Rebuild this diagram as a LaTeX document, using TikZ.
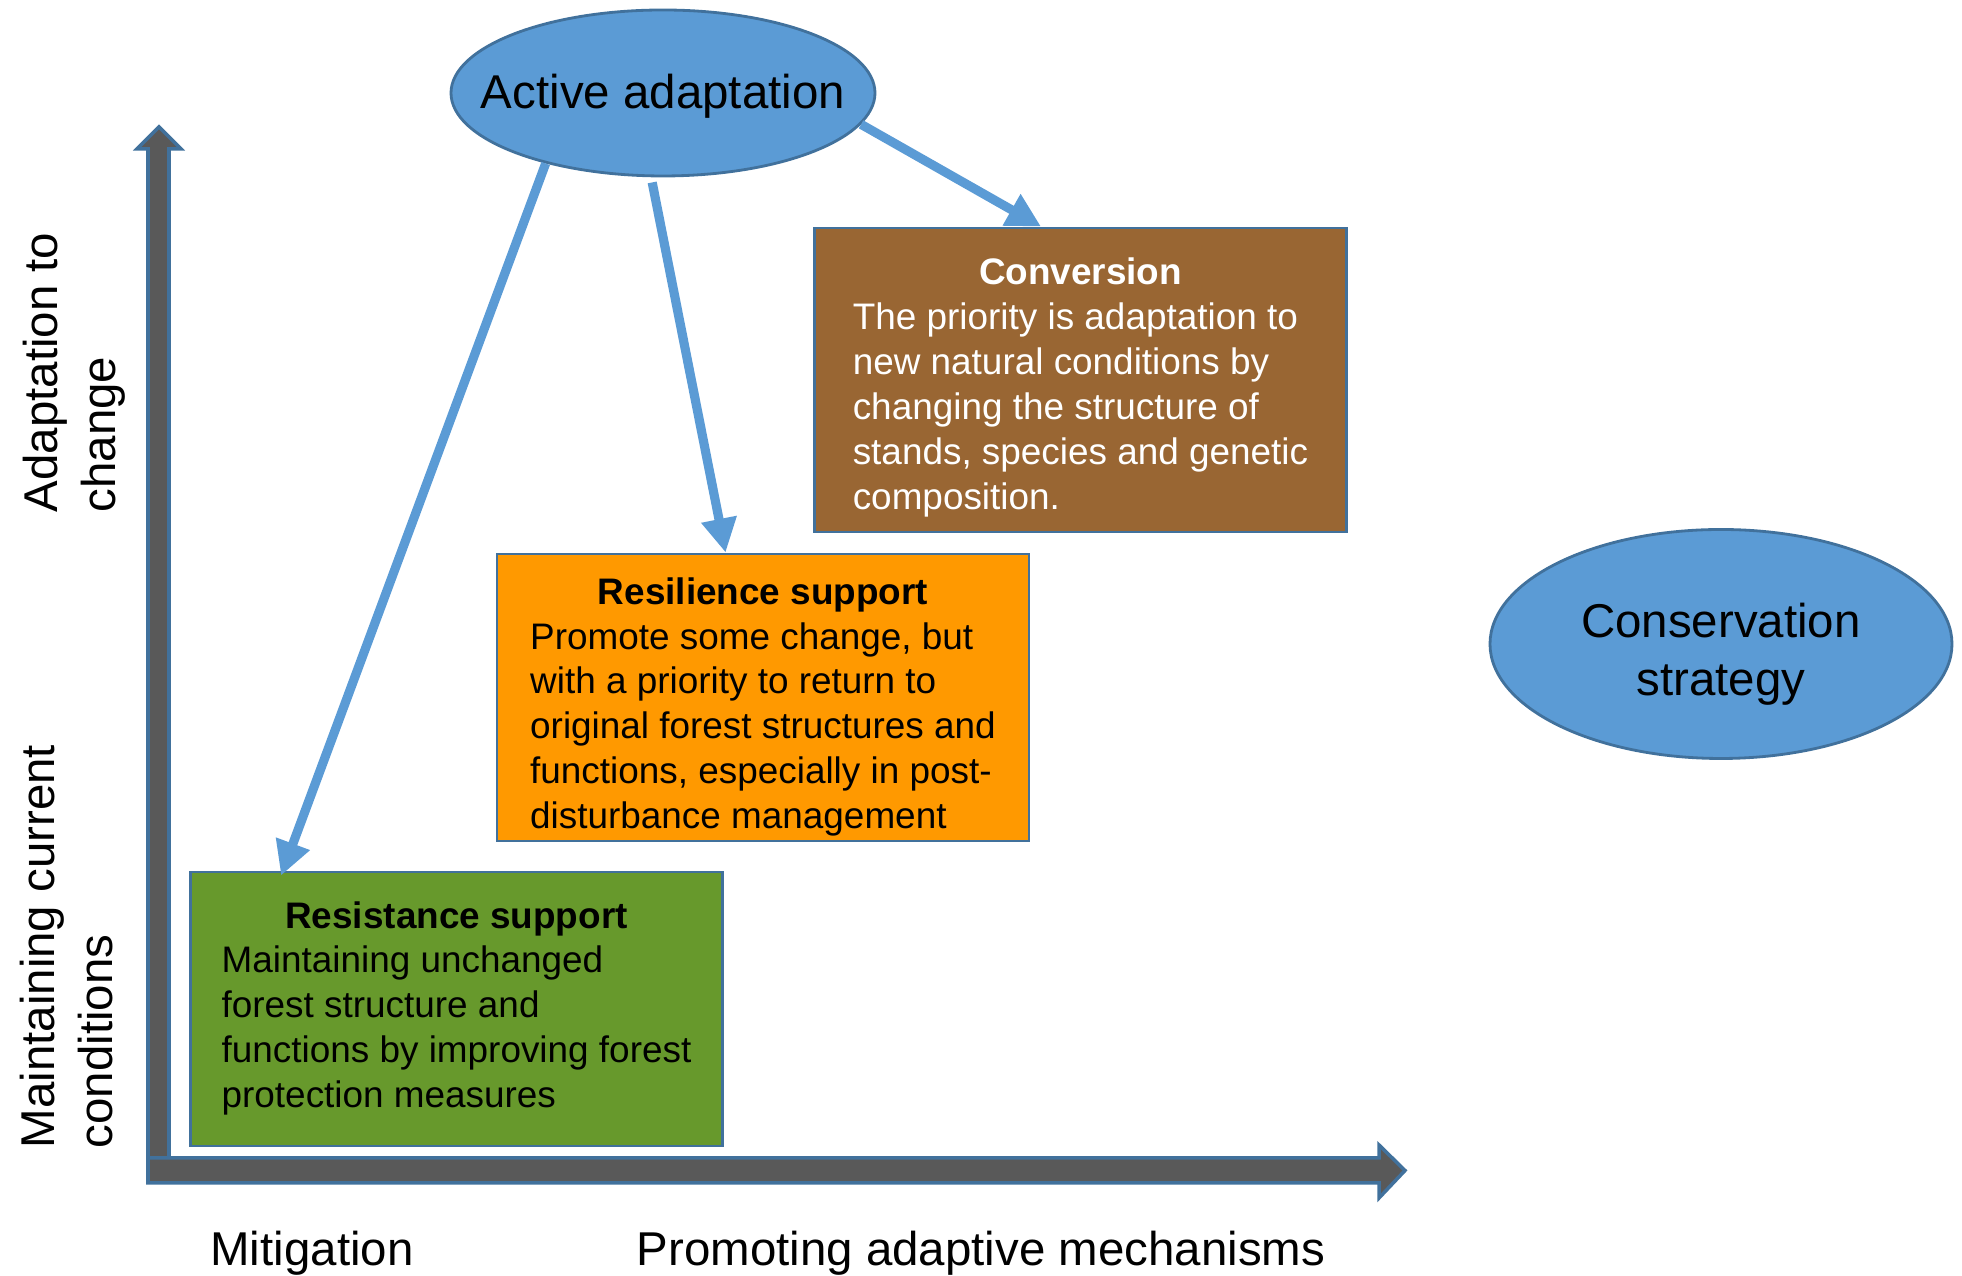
\documentclass[tikz,border=0pt]{standalone}
\usepackage{fontspec}
\setmainfont{Liberation Sans}
\usepackage{xcolor}
\usepackage{tikz}
\usetikzlibrary{calc,shapes.geometric,arrows.meta}
\definecolor{edge}{HTML}{41719C}
\definecolor{sky}{HTML}{5B9BD5}
\definecolor{axisgray}{HTML}{595959}
\definecolor{convbg}{HTML}{996633}
\definecolor{resilbg}{HTML}{FF9900}
\definecolor{resistbg}{HTML}{67992C}
\newcommand{\bigfont}{\fontsize{13.5}{16.5}\selectfont}
\newcommand{\smallfont}{\fontsize{10.5}{12.8}\selectfont}
\newcommand{\ttl}[1]{\multicolumn{1}{@{}c@{}}{\textbf{#1}}}
\newcommand{\dropby}[2]{\raisebox{-#1}[\height][\depth]{#2}}
\tikzset{
  oval/.style={ellipse, draw=edge, fill=sky, line width=0.8pt, inner sep=0pt},
  panel/.style={rectangle, draw=edge, line width=0.8pt, inner sep=0pt, minimum width=5.32cm, font=\smallfont},
  link/.style={draw=sky, line width=2.6pt, -{Triangle[width=0.34cm,length=0.34cm]}},
  axis/.style={draw=edge, fill=axisgray, line width=1pt, line join=miter},
  lab/.style={font=\bigfont, inner sep=0pt, align=center}
}

\begin{document}
\begin{tikzpicture}
  \useasboundingbox (0,0) rectangle (19.62,12.76);
  \draw[axis] (1.48,1.00) -- (1.48,11.27) -- (1.37,11.27) -- (1.59,11.49) -- (1.81,11.27) -- (1.69,11.27) -- (1.69,1.00) -- cycle;
  \draw[axis] (1.48,0.93) -- (13.79,0.93) -- (13.79,0.78) -- (14.05,1.055) -- (13.79,1.31) -- (13.79,1.18) -- (1.48,1.18) -- cycle;
  \node[oval, minimum width=4.24cm, minimum height=1.66cm,
    label={[lab, yshift=-0.03cm]center:Active adaptation}] (active) at (6.63,11.83) {};
  \node[oval, minimum width=4.62cm, minimum height=2.29cm,
    label={[lab, yshift=-0.1cm]center:Conservation\\strategy}] (cons) at (17.21,6.32) {};
  \node[panel, fill=convbg, text=white, minimum height=3.04cm] (conv) at (10.805,8.96)
    {\dropby{0.08cm}{\begin{tabular}{@{}l@{}}\ttl{Conversion}\\The priority is adaptation to\\new natural conditions by\\changing the structure of\\stands, species and genetic\\composition.\end{tabular}}};
  \node[panel, fill=resilbg, minimum height=2.87cm] (resil) at (7.63,5.785)
    {\dropby{0.1cm}{\begin{tabular}{@{}l@{}}\ttl{Resilience support}\\Promote some change, but\\with a priority to return to\\original forest structures and\\functions, especially in post-\\disturbance management\end{tabular}}};
  \node[panel, fill=resistbg, minimum height=2.74cm] (resist) at (4.565,2.67)
    {\begin{tabular}{@{}l@{}}\ttl{Resistance support}\\Maintaining unchanged\\forest structure and\\functions by improving forest\\protection measures\end{tabular}};
  \draw[link] (active.211) -- ($(resist.north west)+(0.92,-0.05)$);
  \draw[link, shorten <=1.5pt] (active.262) -- ($(resil.north west)+(2.30,0)$);
  \draw[link] (active.351) -- ($(conv.north west)+(2.28,0)$);
  \node[lab, rotate=90, anchor=west, align=left] (adapt) at (0.74,7.63) {Adaptation to\\change};
  \node[lab, rotate=90, anchor=west, align=left] (maint) at (0.67,1.27) {Maintaining current\\conditions};
  \node[lab] (mitig) at (3.12,0.23) {Mitigation};
  \node[lab] (promo) at (9.81,0.23) {Promoting adaptive mechanisms};
\end{tikzpicture}
\end{document}
